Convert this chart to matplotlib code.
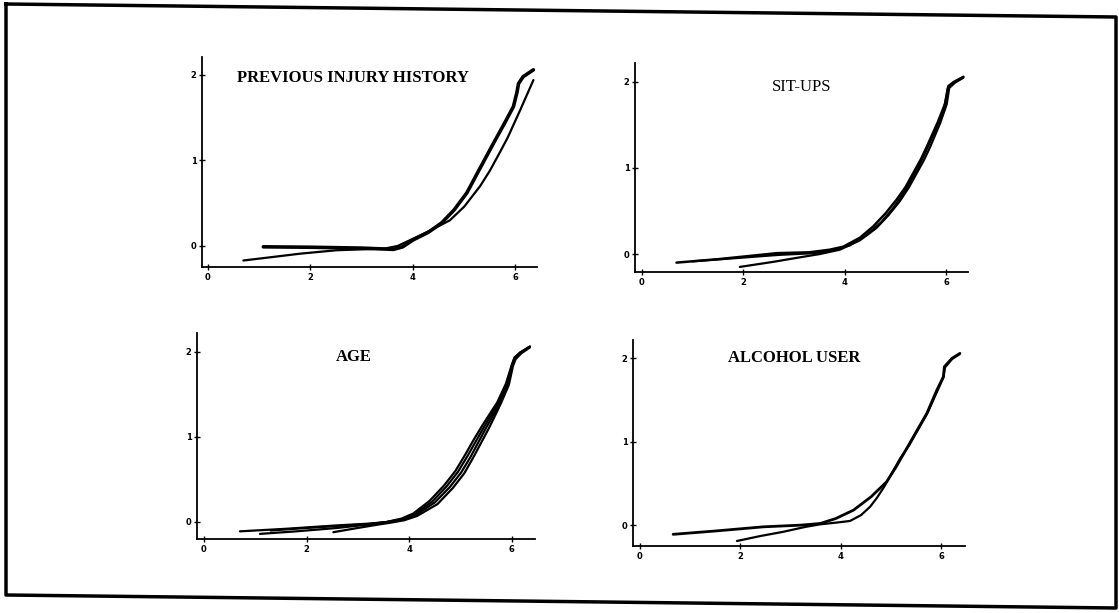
import matplotlib
matplotlib.use("Agg")
import matplotlib.pyplot as plt
from matplotlib.lines import Line2D

# ---------------- data ----------------
titles = ["PREVIOUS INJURY HISTORY", "SIT-UPS", "AGE", "ALCOHOL USER"]
x_ticks = [0, 2, 4, 6]
y_ticks = [0, 1, 2]

# Panel 1: previous injury history
p1_x_a = [1.08, 2.0, 3.0, 3.62, 3.8, 4.0, 4.3, 4.56, 4.8, 5.05, 5.3, 5.57, 5.8, 5.96, 6.03, 6.06, 6.15, 6.35]
p1_y_a = [-0.01, -0.015, -0.025, -0.04, -0.01, 0.07, 0.16, 0.27, 0.42, 0.62, 0.90, 1.20, 1.45, 1.63, 1.80, 1.90, 1.98, 2.06]
p1_x_b = [0.69, 1.11, 1.8, 2.51, 3.0, 3.45, 3.7, 3.95, 4.3, 4.72, 5.0, 5.31, 5.5, 5.7, 5.85, 6.1, 6.35]
p1_y_b = [-0.17, -0.14, -0.09, -0.05, -0.04, -0.03, 0.0, 0.07, 0.17, 0.30, 0.46, 0.70, 0.88, 1.10, 1.27, 1.60, 1.94]

# Panel 2: sit-ups
p2_x_a = [0.68, 1.5, 2.66, 3.3, 3.7, 3.97, 4.3, 4.56, 4.8, 5.02, 5.2, 5.35, 5.5, 5.62, 5.84, 5.98, 6.04, 6.15, 6.34]
p2_y_a = [-0.10, -0.06, 0.01, 0.02, 0.05, 0.085, 0.19, 0.32, 0.47, 0.63, 0.78, 0.94, 1.10, 1.25, 1.54, 1.75, 1.95, 2.00, 2.06]
p2_x_b = [1.93, 2.6, 3.1, 3.51, 3.9, 4.3, 4.62, 4.86, 5.08, 5.26, 5.41, 5.56, 5.68, 5.88, 6.01, 6.06, 6.17, 6.34]
p2_y_b = [-0.15, -0.09, -0.04, 0.0, 0.05, 0.16, 0.30, 0.45, 0.61, 0.77, 0.93, 1.09, 1.24, 1.52, 1.74, 1.93, 1.99, 2.05]
p2_x_c = [1.0, 1.8, 2.7, 3.4, 3.8, 4.1, 4.45, 4.72, 4.95, 5.14, 5.3, 5.45, 5.58, 5.8, 5.96, 6.03, 6.14, 6.33]
p2_y_c = [-0.085, -0.05, -0.01, 0.01, 0.05, 0.10, 0.23, 0.37, 0.53, 0.69, 0.85, 1.01, 1.17, 1.46, 1.70, 1.92, 1.99, 2.05]

# Panel 3: age
p3_x_a = [0.70, 1.6, 2.6, 3.2, 3.56, 3.85, 4.08, 4.4, 4.68, 4.9, 5.08, 5.25, 5.42, 5.58, 5.71, 5.88, 6.0, 6.05, 6.16, 6.35]
p3_y_a = [-0.11, -0.08, -0.04, -0.02, 0.0, 0.04, 0.10, 0.25, 0.43, 0.60, 0.78, 0.96, 1.13, 1.28, 1.40, 1.62, 1.85, 1.93, 1.99, 2.06]
p3_x_b = [1.09, 1.8, 2.6, 3.2, 3.56, 3.85, 4.1, 4.45, 4.73, 4.95, 5.13, 5.3, 5.46, 5.62, 5.75, 5.9, 6.0, 6.05, 6.16, 6.35]
p3_y_b = [-0.14, -0.11, -0.07, -0.03, 0.0, 0.03, 0.09, 0.24, 0.42, 0.59, 0.77, 0.95, 1.12, 1.28, 1.41, 1.62, 1.84, 1.93, 1.99, 2.06]
p3_x_c = [1.3, 2.0, 2.8, 3.3, 3.58, 3.88, 4.12, 4.5, 4.79, 5.01, 5.19, 5.35, 5.5, 5.65, 5.77, 5.92, 6.01, 6.06, 6.17, 6.35]
p3_y_c = [-0.10, -0.07, -0.04, -0.02, 0.0, 0.03, 0.08, 0.23, 0.41, 0.58, 0.76, 0.94, 1.11, 1.27, 1.41, 1.61, 1.84, 1.92, 1.99, 2.06]
p3_x_d = [2.52, 3.0, 3.4, 3.62, 3.9, 4.15, 4.55, 4.85, 5.07, 5.24, 5.4, 5.55, 5.68, 5.79, 5.94, 6.02, 6.07, 6.18, 6.35]
p3_y_d = [-0.12, -0.07, -0.03, -0.01, 0.02, 0.07, 0.21, 0.40, 0.57, 0.75, 0.93, 1.10, 1.26, 1.40, 1.61, 1.83, 1.91, 1.98, 2.05]

# Panel 4: alcohol user
p4_x_a = [0.66, 1.5, 2.46, 3.2, 3.59, 3.9, 4.25, 4.6, 4.91, 5.1, 5.31, 5.5, 5.71, 5.91, 6.04, 6.06, 6.21, 6.37]
p4_y_a = [-0.11, -0.07, -0.02, 0.0, 0.02, 0.08, 0.18, 0.34, 0.52, 0.70, 0.92, 1.12, 1.34, 1.62, 1.78, 1.90, 2.00, 2.06]
p4_x_b = [1.93, 2.4, 2.85, 3.3, 3.59, 3.9, 4.18, 4.4, 4.58, 4.72, 4.86, 5.02, 5.18, 5.35, 5.53, 5.72, 5.92, 6.04, 6.07, 6.21, 6.36]
p4_y_b = [-0.19, -0.13, -0.08, -0.02, 0.01, 0.03, 0.05, 0.12, 0.22, 0.33, 0.46, 0.63, 0.80, 0.95, 1.14, 1.34, 1.61, 1.77, 1.89, 1.99, 2.05]

panel_series = [
    [(p1_x_a, p1_y_a, 2.6), (p1_x_b, p1_y_b, 1.6)],
    [(p2_x_a, p2_y_a, 1.8), (p2_x_b, p2_y_b, 1.6), (p2_x_c, p2_y_c, 1.6)],
    [(p3_x_a, p3_y_a, 1.6), (p3_x_b, p3_y_b, 1.6), (p3_x_c, p3_y_c, 1.6), (p3_x_d, p3_y_d, 1.6)],
    [(p4_x_a, p4_y_a, 2.0), (p4_x_b, p4_y_b, 1.6)],
]

# ---------------- layout (pixels, top-origin) ----------------
W, H = 1119, 613
boxes = [
    (202, 537, 267, 57, (-0.117, 6.42), (-0.246, 2.21), (2.83, 1.96)),
    (635, 968, 272, 63, (-0.138, 6.43), (-0.209, 2.22), (3.14, 1.94)),
    (197, 535, 539, 333, (-0.136, 6.45), (-0.200, 2.22), (2.92, 1.94)),
    (633, 965, 546, 340, (-0.139, 6.47), (-0.250, 2.22), (3.07, 2.01)),
]
title_weights = ["bold", "normal", "bold", "bold"]

fig = plt.figure(figsize=(W / 100, H / 100), dpi=100)
fig.patch.set_facecolor("white")

serif = ["Liberation Serif", "DejaVu Serif"]

for i, (l, r, b, t, xl, yl, tpos) in enumerate(boxes):
    ax = fig.add_axes([l / W, 1 - b / H, (r - l) / W, (b - t) / H])
    for xs, ys, lw in panel_series[i]:
        ax.plot(xs, ys, color="black", lw=lw, solid_joinstyle="round", solid_capstyle="round")
    ax.set_xlim(*xl)
    ax.set_ylim(*yl)
    ax.set_xticks(x_ticks)
    ax.set_yticks(y_ticks)
    ax.set_xticklabels([str(v) for v in x_ticks])
    ax.set_yticklabels([str(v) for v in y_ticks])
    for s in ["top", "right"]:
        ax.spines[s].set_visible(False)
    for s in ["left", "bottom"]:
        ax.spines[s].set_linewidth(1.3)
    ax.tick_params(axis="both", direction="inout", length=4, width=1.0,
                   labelsize=6, pad=2)
    for lab in ax.get_xticklabels() + ax.get_yticklabels():
        lab.set_fontweight("bold")
    ax.text(tpos[0], tpos[1], titles[i], ha="center", va="center",
            fontsize=12, family=serif, fontweight=title_weights[i])

# outer slightly skewed frame (scanned page border)
corners_px = [(6, 4), (1116, 17), (1116, 608), (6, 595), (6, 4)]
fx = [c[0] / W for c in corners_px]
fy = [1 - c[1] / H for c in corners_px]
fig.add_artist(Line2D(fx, fy, transform=fig.transFigure, color="black", lw=2.5))

fig.savefig("out.png", dpi=100)
